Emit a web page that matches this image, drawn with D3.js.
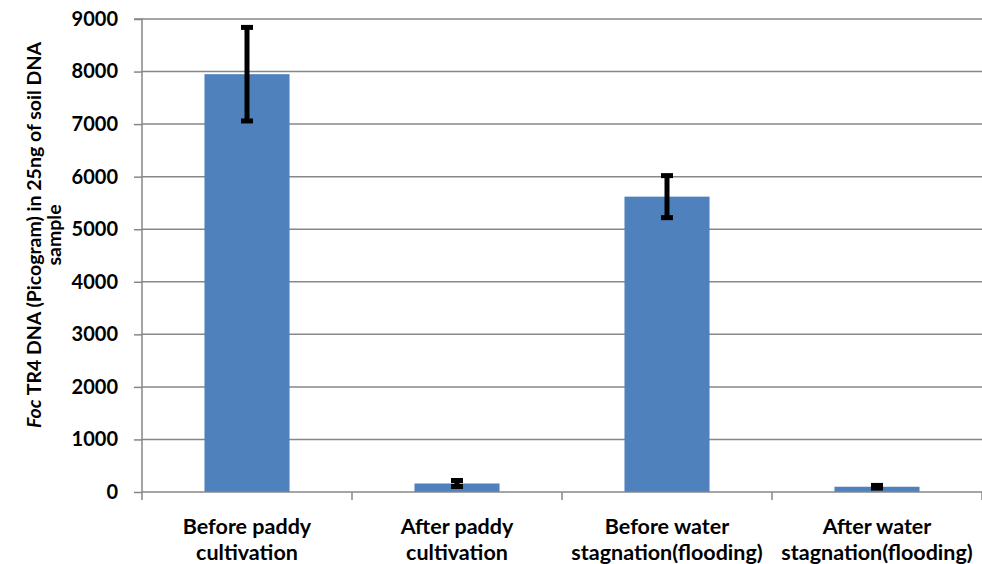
<!DOCTYPE html>
<html><head><meta charset="utf-8">
<script src="https://cdn.jsdelivr.net/npm/d3@7"></script>
<style>body{margin:0;background:#fff}svg{display:block}text{font-family:Lato,"Open Sans",sans-serif;font-weight:bold;fill:#000}</style>
</head><body><svg id="c" width="982" height="564"></svg>
<script>
const categories = [["Before paddy","cultivation"],["After paddy","cultivation"],["Before water","stagnation(flooding)"],["After water","stagnation(flooding)"]];
const values = [7950, 162, 5620, 100];
const errors = [890, 57, 400, 25];
const yTicks = [0,1000,2000,3000,4000,5000,6000,7000,8000,9000];

const svg = d3.select("#c");
const L=142, R=982, T=19, B=492;
const x = d3.scaleBand().domain(d3.range(categories.length)).range([L,R]).paddingInner(0.595).paddingOuter(0.2975);
const xOuter = d3.scaleBand().domain(d3.range(categories.length)).range([L,R]);
const y = d3.scaleLinear().domain([0,9000]).range([B,T]);

// gridlines
svg.append("g").selectAll("line").data(yTicks.slice(1)).join("line")
  .attr("x1",L).attr("x2",R).attr("y1",d=>y(d)).attr("y2",d=>y(d))
  .attr("stroke","#878787").attr("stroke-width",1.5);

// y axis
const ya = svg.append("g").attr("transform",`translate(${L},0)`)
  .call(d3.axisLeft(y).tickValues(yTicks).tickSize(8).tickPadding(16).tickFormat(d3.format("d")));
ya.select(".domain").attr("stroke","#878787").attr("stroke-width",1.5).attr("d",`M-8,${T}H0V${B}`);
ya.selectAll(".tick line").attr("stroke","#878787").attr("stroke-width",1.5);
ya.selectAll(".tick text").attr("font-size",20).attr("font-family","Lato").attr("font-weight","bold").attr("fill","#000");

// bars
svg.append("g").selectAll("rect").data(values).join("rect")
  .attr("x",(d,i)=>x(i)).attr("width",x.bandwidth())
  .attr("y",d=>y(d)).attr("height",d=>B-y(d)).attr("fill","#4F81BD");

// x axis
const xa = svg.append("g").attr("transform",`translate(0,${B})`);
xa.append("line").attr("x1",L).attr("x2",R).attr("stroke","#878787").attr("stroke-width",1.5);
const bounds = d3.range(categories.length+1).map(i=> i<categories.length? xOuter(i): R);
xa.selectAll(".tk").data(bounds).join("line").attr("class","tk")
  .attr("x1",d=>d).attr("x2",d=>d).attr("y1",0).attr("y2",8).attr("stroke","#878787").attr("stroke-width",1.5);
categories.forEach((c,i)=>{
  const t = xa.append("text").attr("x",x(i)+x.bandwidth()/2).attr("text-anchor","middle").attr("font-size",21.5);
  t.append("tspan").attr("x",x(i)+x.bandwidth()/2).attr("y",42).text(c[0]);
  t.append("tspan").attr("x",x(i)+x.bandwidth()/2).attr("y",68).text(c[1]);
});

// error bars
const eg = svg.append("g");
values.forEach((v,i)=>{
  const cx = x(i)+x.bandwidth()/2;
  eg.append("line").attr("x1",cx).attr("x2",cx).attr("y1",y(v+errors[i])).attr("y2",y(v-errors[i]))
    .attr("stroke","#000").attr("stroke-width",5);
  [v+errors[i], v-errors[i]].forEach(e=>{
    eg.append("line").attr("x1",cx-6).attr("x2",cx+6).attr("y1",y(e)).attr("y2",y(e))
      .attr("stroke","#000").attr("stroke-width",5);
  });
});

// y title
const yt = svg.append("text").attr("transform","translate(0,235) rotate(-90)").attr("text-anchor","middle").attr("font-size",19.5);
const l1 = yt.append("tspan").attr("x",0).attr("y",41);
l1.append("tspan").attr("font-style","italic").text("Foc");
l1.append("tspan").text(" TR4 DNA (Picogram) in 25ng of soil DNA");
yt.append("tspan").attr("x",0).attr("y",61).text("sample");
</script></body></html>
